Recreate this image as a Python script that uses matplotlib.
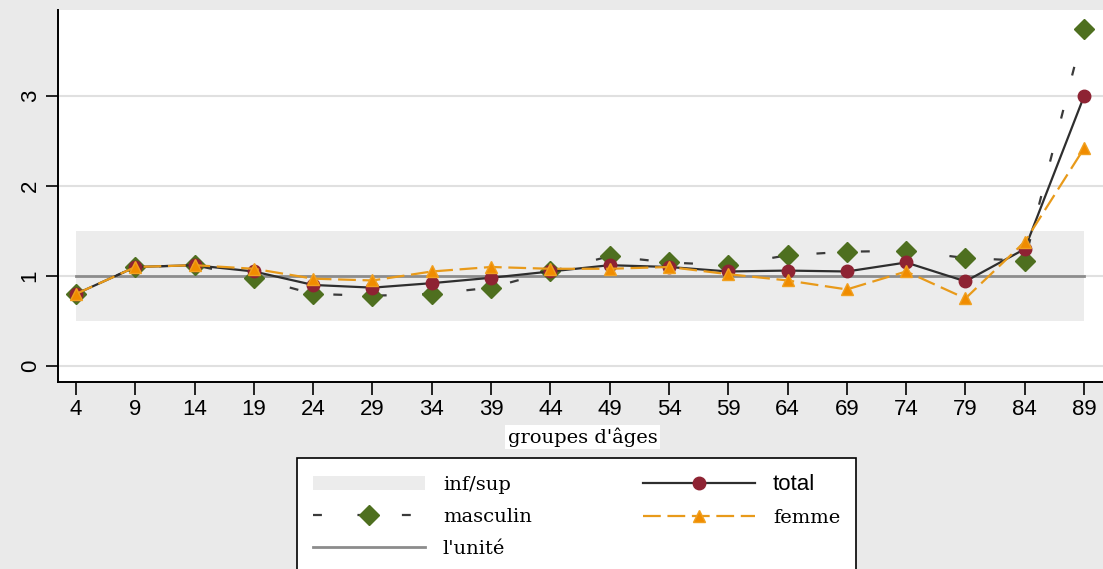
import numpy as np
import matplotlib
matplotlib.use("Agg")
import matplotlib.pyplot as plt

# groupes d'ages (borne haute)
ages = [4, 9, 14, 19, 24, 29, 34, 39, 44, 49, 54, 59, 64, 69, 74, 79, 84, 89]
total = [0.80, 1.10, 1.12, 1.05, 0.90, 0.87, 0.92, 0.98, 1.05, 1.12, 1.10, 1.05,
         1.06, 1.05, 1.15, 0.94, 1.30, 3.00]
masculin = [0.80, 1.10, 1.12, 0.98, 0.80, 0.78, 0.80, 0.87, 1.05, 1.22, 1.15, 1.12,
            1.23, 1.27, 1.28, 1.20, 1.17, 3.75]
femme = [0.80, 1.10, 1.12, 1.08, 0.97, 0.95, 1.05, 1.10, 1.08, 1.08, 1.10, 1.02,
         0.95, 0.85, 1.05, 0.75, 1.38, 2.42]
inf = [0.5] * len(ages)
sup = [1.5] * len(ages)
unite = [1.0] * len(ages)

W, H = 1103, 569
fig = plt.figure(figsize=(W / 100, H / 100), dpi=100, facecolor="#eaeaea")
ax = fig.add_axes([58 / W, 1 - 382 / H, 1 - 58 / W, (382 - 10) / H])
ax.set_facecolor("white")

for v in [0, 1, 2, 3]:
    ax.axhline(v, color="#e0e0e0", lw=1.5, zorder=0)

ax.fill_between(ages, inf, sup, color="#ececec", lw=0, zorder=1, label="inf/sup")
ax.plot(ages, masculin, color="#3a3a3a", lw=1.6, dashes=(4, 16), marker="D",
        ms=10, mfc="#4e6f1f", mec="#4e6f1f", zorder=3, label="masculin")
ax.plot(ages, unite, color="#8c8c8c", lw=2, zorder=2, label="l'unité")
ax.plot(ages, total, color="#2e2e2e", lw=1.6, marker="o", ms=9,
        mfc="#8e2333", mec="#8e2333", zorder=4, label="total")
ax.plot(ages, femme, color="#e89a1a", lw=1.6, dashes=(8, 3), marker="^",
        ms=9, mfc="#f08c00", mec="#f0a020", zorder=5, label="femme")

ax.set_xlim(2.48, 90.6)
ax.set_ylim(-0.18, 3.96)
ax.set_xticks(ages)
ax.set_xticklabels([str(a) for a in ages])
ax.set_yticks([0, 1, 2, 3])
ax.set_yticklabels(["0", "1", "2", "3"], rotation=90, va="center")
ax.tick_params(axis="both", length=9, width=1.2, labelsize=16, direction="out")
for lab in ax.get_xticklabels() + ax.get_yticklabels():
    lab.set_family(["Liberation Sans", "DejaVu Sans"])
for s in ["top", "right"]:
    ax.spines[s].set_visible(False)
ax.spines["left"].set_linewidth(1.4)
ax.spines["bottom"].set_linewidth(1.4)

fig.text(508 / W, 1 - 437 / H, "groupes d'âges", ha="left", va="center",
         fontsize=14, family="DejaVu Serif",
         bbox=dict(facecolor="white", edgecolor="none", pad=2))

leg = ax.legend(ncol=2, loc="upper left", bbox_to_anchor=(297 / W, 1 - 458 / H),
                bbox_transform=fig.transFigure, frameon=True, fancybox=False,
                edgecolor="black", facecolor="white", framealpha=1,
                prop={"family": "DejaVu Serif", "size": 14},
                handlelength=5.8, columnspacing=5.7, labelspacing=0.72,
                handletextpad=0.9, borderpad=0.8, borderaxespad=0)
leg.get_frame().set_linewidth(1.2)
for t in leg.get_texts():
    if t.get_text() == "total":
        t.set_family("Liberation Sans")
        t.set_fontsize(16)

fig.savefig("out.png", dpi=100, facecolor=fig.get_facecolor())
